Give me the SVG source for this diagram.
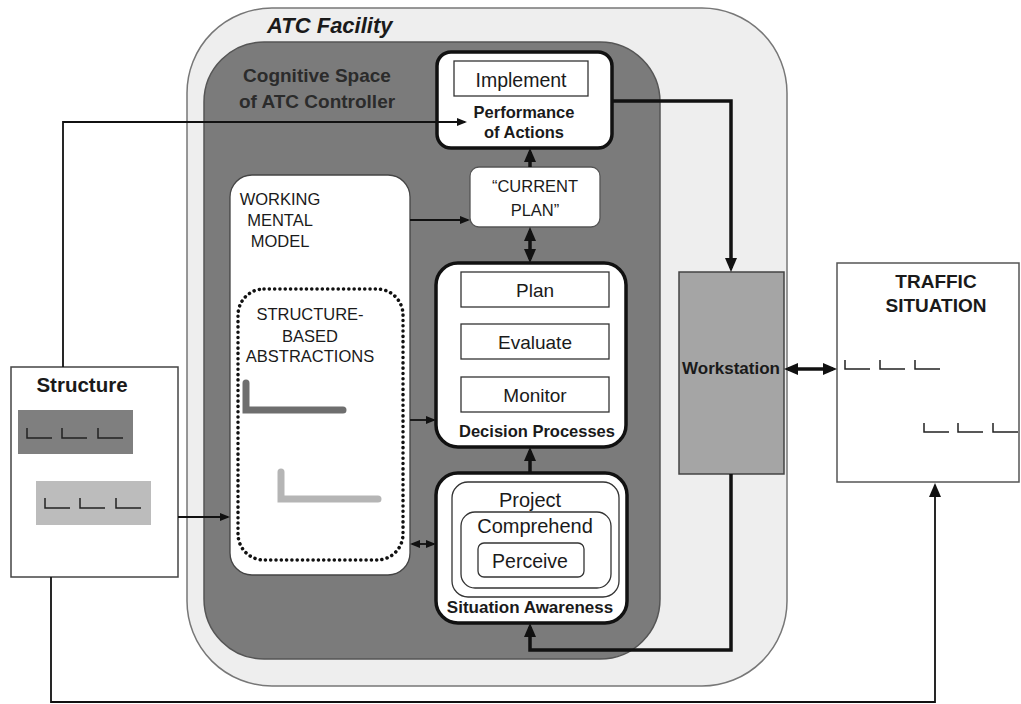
<svg xmlns="http://www.w3.org/2000/svg" width="1021" height="704" viewBox="0 0 1021 704">
<style>
text{font-family:"Liberation Sans",Arial,sans-serif;fill:#1a1a1a}
.b{font-weight:bold}
.c{text-anchor:middle}
.node{fill:#fff;stroke:#111;stroke-width:3.5}
.thin{fill:#fff;stroke:#333;stroke-width:1.3}
.ln{fill:none;stroke:#111;stroke-width:1.8}
.tk{fill:none;stroke:#111;stroke-width:3.5}
.l{fill:none;stroke:#222;stroke-width:1.5}
</style>
<defs>
<marker id="a" viewBox="0 0 10 8" markerWidth="10" markerHeight="8" refX="8" refY="4" orient="auto-start-reverse" markerUnits="userSpaceOnUse"><path d="M0,0 L10,4 L0,8 z" fill="#111"/></marker>
<marker id="A" viewBox="0 0 14 12" markerWidth="14" markerHeight="12" refX="10" refY="6" orient="auto-start-reverse" markerUnits="userSpaceOnUse"><path d="M0,0 L14,6 L0,12 z" fill="#111"/></marker>
</defs>

<g id="atc-facility">
<rect x="187" y="8" width="600" height="678" rx="85" fill="#eeeeee" stroke="#777" stroke-width="1.5"/>
<text x="267" y="33" class="b" font-style="italic" font-size="22">ATC Facility</text>
</g>

<g id="cognitive-space">
<rect x="204" y="42" width="456" height="617" rx="60" fill="#7b7b7b" stroke="#555" stroke-width="1.5"/>
<text x="317" y="82" class="b c" font-size="19" style="fill:#2b2b2b">Cognitive Space</text>
<text x="317" y="108" class="b c" font-size="19" style="fill:#2b2b2b">of ATC Controller</text>
</g>

<g id="performance">
<rect x="437" y="52" width="175" height="96" rx="14" class="node"/>
<rect x="454" y="61" width="134" height="35" class="thin"/>
<text x="521" y="87" class="c" font-size="19.5">Implement</text>
<text x="524" y="118" class="b c" font-size="16.5">Performance</text>
<text x="524" y="138" class="b c" font-size="16.5">of Actions</text>
</g>

<g id="current-plan">
<rect x="470" y="167" width="130" height="60" rx="9" fill="#fff" stroke="#555" stroke-width="1.3"/>
<text x="535" y="192" class="c" font-size="16.5">“CURRENT</text>
<text x="535" y="216" class="c" font-size="16.5">PLAN”</text>
</g>

<g id="working-mental-model">
<rect x="230" y="175" width="180" height="400" rx="22" fill="#fff" stroke="#444" stroke-width="1.3"/>
<text x="280" y="205" class="c" font-size="16.5">WORKING</text>
<text x="280" y="226" class="c" font-size="16.5">MENTAL</text>
<text x="280" y="247" class="c" font-size="16.5">MODEL</text>
</g>

<g id="structure-based-abstractions">
<rect x="238" y="289" width="165" height="271" rx="26" fill="none" stroke="#111" stroke-width="3.5" stroke-linecap="round" stroke-dasharray="0.1 5.2"/>
<text x="310" y="320" class="c" font-size="16.5">STRUCTURE-</text>
<text x="310" y="342" class="c" font-size="16.5">BASED</text>
<text x="310" y="362" class="c" font-size="16.5">ABSTRACTIONS</text>
<path d="M246,383 V410 H343" fill="none" stroke="#6e6e6e" stroke-width="7" stroke-linecap="round"/>
<path d="M281,472 V499 H378" fill="none" stroke="#b5b5b5" stroke-width="7" stroke-linecap="round"/>
</g>

<g id="decision-processes">
<rect x="436" y="263" width="190" height="184" rx="22" class="node"/>
<rect x="461" y="272" width="148" height="35" class="thin"/>
<rect x="461" y="324" width="148" height="35" class="thin"/>
<rect x="461" y="377" width="148" height="35" class="thin"/>
<text x="535" y="297" class="c" font-size="19">Plan</text>
<text x="535" y="349" class="c" font-size="19">Evaluate</text>
<text x="535" y="402" class="c" font-size="19">Monitor</text>
<text x="537" y="437" class="b c" font-size="16.5">Decision Processes</text>
</g>

<g id="situation-awareness">
<rect x="436" y="473" width="191" height="150" rx="22" class="node"/>
<rect x="452" y="482" width="167" height="115" rx="16" class="thin"/>
<rect x="461" y="512" width="150" height="76" rx="14" class="thin"/>
<rect x="478" y="543" width="106" height="34" rx="6" class="thin"/>
<text x="530" y="507" class="c" font-size="20">Project</text>
<text x="535" y="533" class="c" font-size="20">Comprehend</text>
<text x="530" y="568" class="c" font-size="19.5">Perceive</text>
<text x="530" y="613" class="b c" font-size="17">Situation Awareness</text>
</g>

<g id="workstation">
<rect x="679" y="272" width="105" height="202" fill="#a5a5a5" stroke="#444" stroke-width="1.5"/>
<text x="731" y="374" class="b c" font-size="17">Workstation</text>
</g>

<g id="structure">
<rect x="11" y="367" width="167" height="210" fill="#fff" stroke="#444" stroke-width="1.5"/>
<text x="82" y="392" class="b c" font-size="20.5">Structure</text>
<rect x="18" y="410" width="115" height="44" fill="#7f7f7f"/>
<rect x="36" y="481" width="115" height="44" fill="#bcbcbc"/>
<path d="M27,428 V438 H52 M62,428 V438 H87 M98,428 V438 H123" class="l"/>
<path d="M45,498 V508 H70 M80,498 V508 H105 M116,498 V508 H141" class="l"/>
</g>

<g id="traffic-situation">
<rect x="837" y="263" width="182" height="219" fill="#fff" stroke="#555" stroke-width="1.5"/>
<text x="936" y="288" class="b c" font-size="19">TRAFFIC</text>
<text x="936" y="312" class="b c" font-size="19">SITUATION</text>
<path d="M845,360 V369 H870 M880,360 V369 H905 M915,360 V369 H940" class="l"/>
<path d="M924,423 V432 H949 M958,423 V432 H983 M993,423 V432 H1018" class="l"/>
</g>

<g id="connectors">
<path d="M63,367 V122 H465" class="ln" marker-end="url(#a)"/>
<path d="M178,517 H228" class="ln" marker-end="url(#a)"/>
<path d="M410,220 H468" class="ln" marker-end="url(#a)"/>
<path d="M410,420 H434" class="ln" marker-end="url(#a)"/>
<path d="M412,544 H434" class="ln" marker-start="url(#a)" marker-end="url(#a)"/>
<path d="M530,167 V152" class="tk" marker-end="url(#A)"/>
<path d="M530,231 V259" class="tk" marker-start="url(#A)" marker-end="url(#A)"/>
<path d="M530,473 V451" class="tk" marker-end="url(#A)"/>
<path d="M612,101 H731 V268" class="tk" marker-end="url(#A)"/>
<path d="M731,474 V650 H530 V627" class="tk" marker-end="url(#A)"/>
<path d="M788,369 H833" class="tk" stroke-width="3" marker-start="url(#A)" marker-end="url(#A)"/>
<path d="M51,577 V702 H935 V487" class="ln" marker-end="url(#A)"/>
</g>
</svg>
